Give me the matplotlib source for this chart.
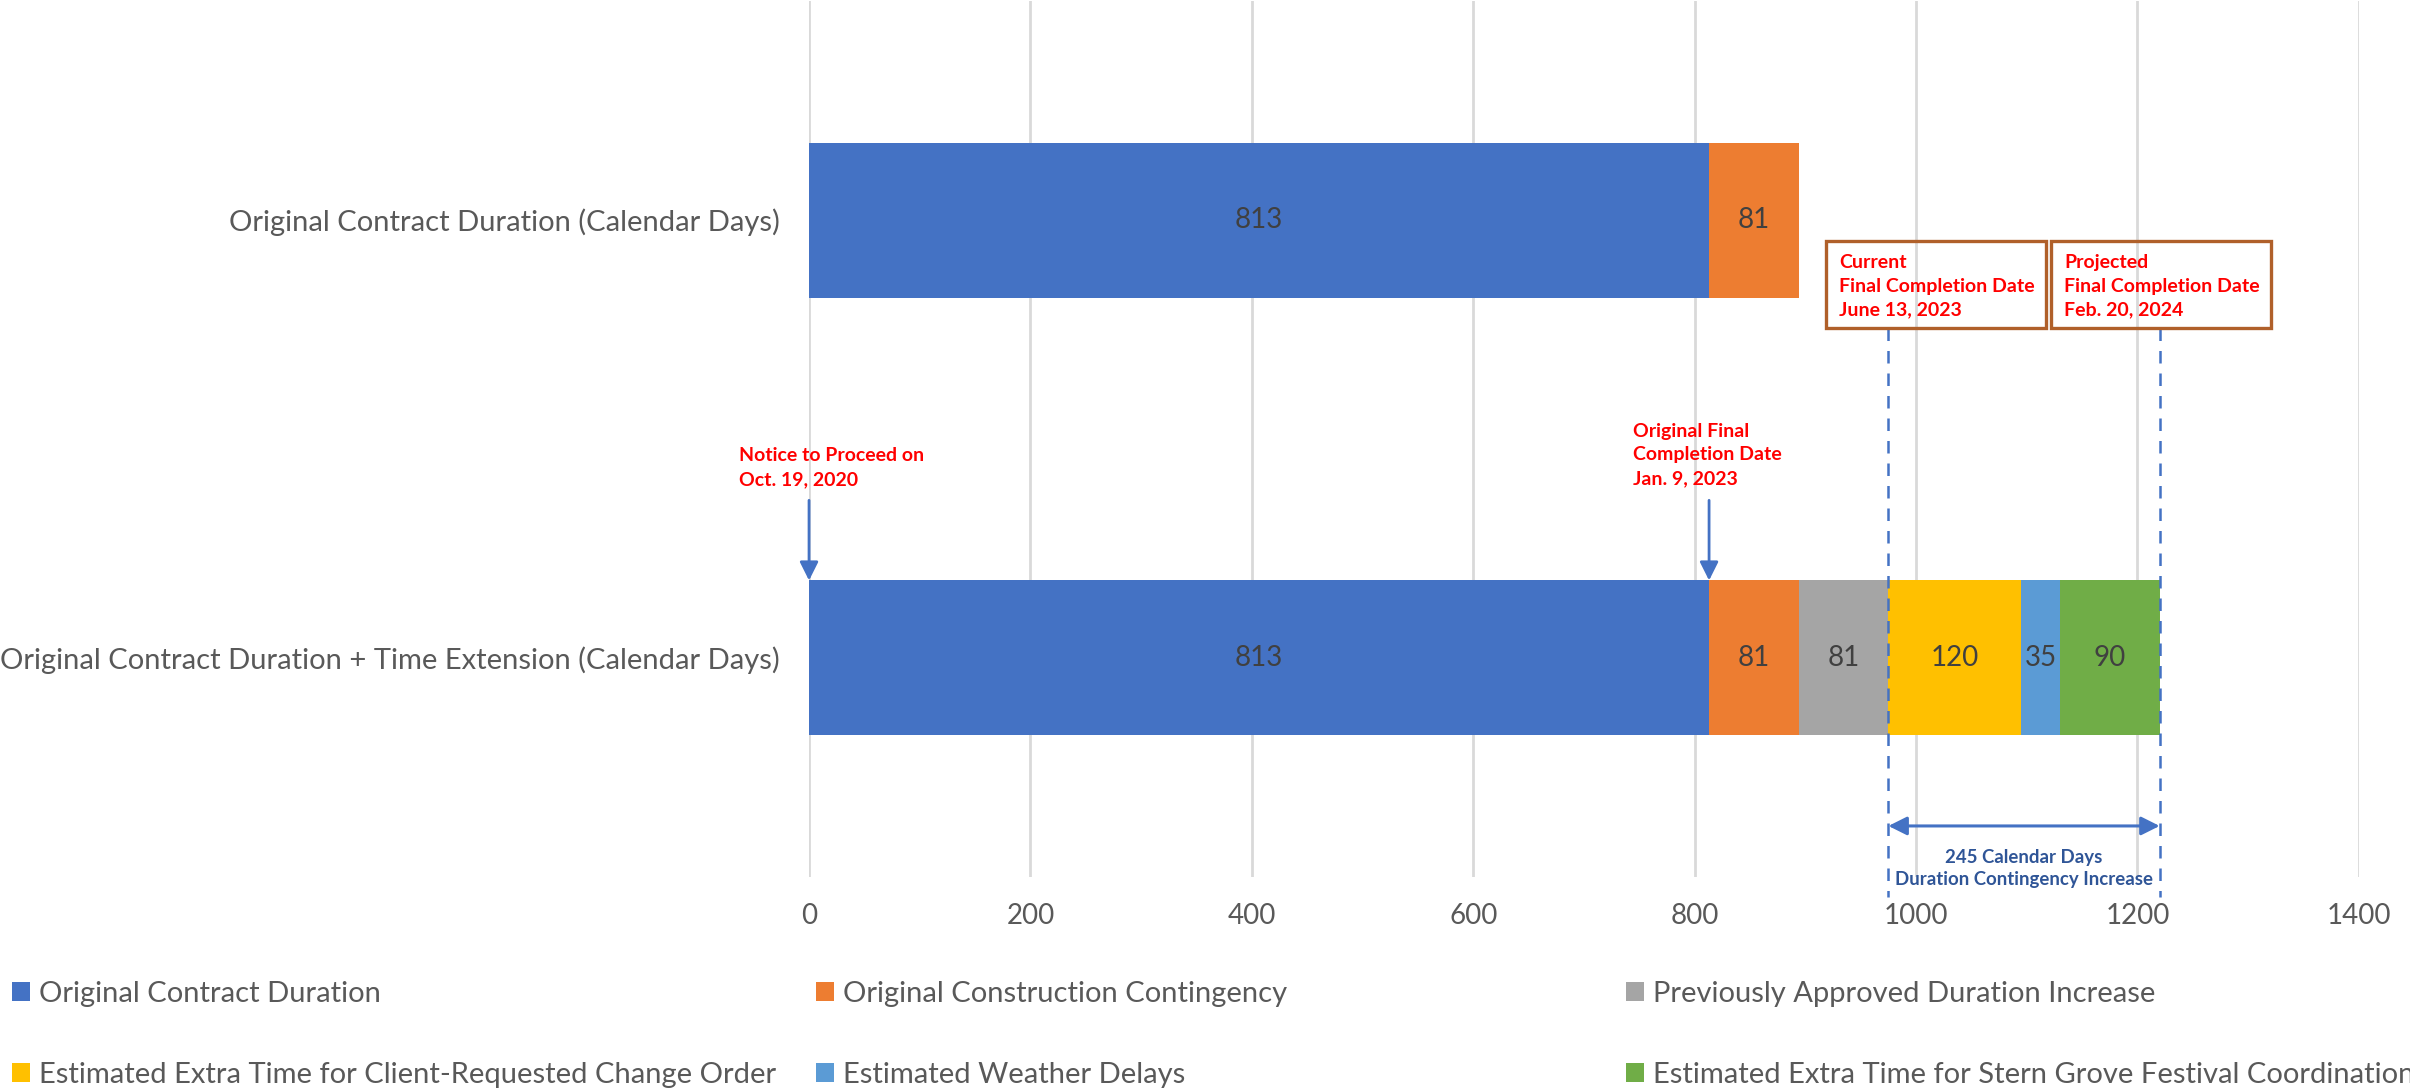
import matplotlib.pyplot as plt
import matplotlib as mpl
from matplotlib.patches import Rectangle

mpl.use('Agg')
plt.rcParams['font.family'] = ['Lato', 'DejaVu Sans']

# categories, bottom to top
categories = ['Original Contract Duration + Time Extension (Calendar Days)',
              'Original Contract Duration (Calendar Days)']

series_names = ['Original Contract Duration',
                'Original Construction Contingency',
                'Previously Approved Duration Increase',
                'Estimated Extra Time for Client-Requested Change Order',
                'Estimated Weather Delays',
                'Estimated Extra Time for Stern Grove Festival Coordination']
series_colors = ['#4472C4', '#ED7D31', '#A5A5A5', '#FFC000', '#5B9BD5', '#70AD47']

contract = [813, 813]
contingency = [81, 81]
prev_approved = [81, 0]
client_change = [120, 0]
weather = [35, 0]
stern_grove = [90, 0]
series_values = [contract, contingency, prev_approved, client_change, weather, stern_grove]

x_ticks = [0, 200, 400, 600, 800, 1000, 1200, 1400]

# milestone days
ntp_day = 0
orig_final_day = 813
current_final_day = 975
projected_final_day = 1220

red = '#FF0000'
arrow_blue = '#4472C4'
text_blue = '#2F5597'
box_edge = '#B0602A'

fig = plt.figure(figsize=(24.1, 10.88), dpi=100)
ax = fig.add_axes([0.3357, 0.194, 0.6431, 0.805])

ypos = [0, 1]
left = [0, 0]
handles = []
for name, vals, col in zip(series_names, series_values, series_colors):
    bars = ax.barh(ypos, vals, left=left, height=0.354, color=col, label=name, zorder=2)
    labels = [str(v) if v else '' for v in vals]
    ax.bar_label(bars, labels=labels, label_type='center', fontsize=20, color='#404040')
    handles.append(bars)
    left = [l + v for l, v in zip(left, vals)]

ax.set_xlim(0, 1400)
ax.set_ylim(-0.5, 1.5)
ax.set_xticks(x_ticks)
ax.set_yticks(ypos)
ax.set_yticklabels(categories)
ax.tick_params(axis='x', length=0, pad=19, labelsize=20, labelcolor='#595959')
ax.tick_params(axis='y', length=0, pad=21, labelsize=21, labelcolor='#595959')
ax.grid(axis='x', color='#D9D9D9', linewidth=2, zorder=0)
ax.set_axisbelow(True)
for s in ax.spines.values():
    s.set_visible(False)

# Notice to proceed + original final completion arrows
bar_top = 0.177
arrow_kw = dict(arrowstyle='-|>', color=arrow_blue, lw=2, mutation_scale=28, shrinkA=0, shrinkB=0)
ax.annotate('', xy=(ntp_day, bar_top), xytext=(ntp_day, 0.36), arrowprops=arrow_kw, zorder=5)
ax.text(-63.2, 0.435, 'Notice to Proceed on\nOct. 19, 2020', color=red, fontsize=14,
        fontweight='bold', ha='left', va='center', linespacing=1.47)
ax.annotate('', xy=(orig_final_day, bar_top), xytext=(orig_final_day, 0.36), arrowprops=arrow_kw, zorder=5)
ax.text(744.3, 0.4635, 'Original Final\nCompletion Date\nJan. 9, 2023', color=red, fontsize=14,
        fontweight='bold', ha='left', va='center', linespacing=1.47)

# boxes for current / projected completion
box_bottom, box_top = 0.753, 0.952
for x0, x1, tx, txt in [(918.6, 1117.3, 930.4, 'Current\nFinal Completion Date\nJune 13, 2023'),
                        (1121.5, 1320.6, 1133.6, 'Projected\nFinal Completion Date\nFeb. 20, 2024')]:
    ax.add_patch(Rectangle((x0, box_bottom), x1 - x0, box_top - box_bottom, facecolor='none',
                           edgecolor=box_edge, lw=2.4, zorder=4))
    ax.text(tx, 0.849, txt, color=red, fontsize=14, fontweight='bold',
            ha='left', va='center', linespacing=1.47, zorder=5)

# dashed guide lines
for d in (current_final_day, projected_final_day):
    ax.plot([d, d], [box_bottom, -0.546], color=arrow_blue, lw=1.8, ls=(0, (5, 4)),
            clip_on=False, zorder=3)

ax.annotate('', xy=(projected_final_day, -0.3836), xytext=(current_final_day, -0.3836),
            arrowprops=dict(arrowstyle='<|-|>', color=arrow_blue, lw=2.2, mutation_scale=28,
                            shrinkA=0, shrinkB=0), annotation_clip=False, zorder=5)
ax.text((current_final_day + projected_final_day) / 2, -0.4806,
        '245 Calendar Days\nDuration Contingency Increase', color=text_blue, fontsize=13.4,
        fontweight='bold', ha='center', va='center', linespacing=1.41, clip_on=False)

# legend entries, three columns x two rows
leg_x = [12 / 2410, 816 / 2410, 1626 / 2410]
leg_y = [94 / 1088, 13 / 1088]
for i, (h, name) in enumerate(zip(handles, series_names)):
    leg = fig.legend([h], [name], loc='center left', bbox_to_anchor=(leg_x[i % 3], leg_y[i // 3]),
                     frameon=False, fontsize=21, labelcolor='#595959', handlelength=0.62,
                     handleheight=0.62, handletextpad=0.3, borderpad=0, borderaxespad=0)

fig.savefig('out.png', dpi=100)
